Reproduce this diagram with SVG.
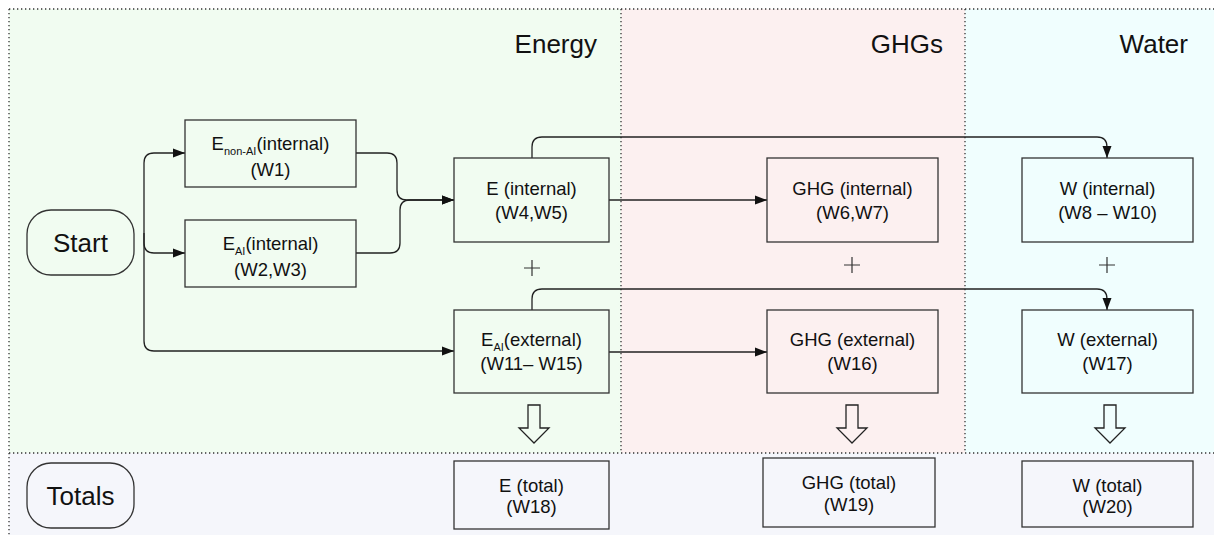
<svg xmlns="http://www.w3.org/2000/svg" width="1214" height="535" viewBox="0 0 1214 535">
<defs>
<style>
.box{fill:none;stroke:#333;stroke-width:1.3}
.t{font-family:"Liberation Sans",Arial,sans-serif;font-size:18.5px;fill:#111;text-anchor:middle}
.sub{font-size:11px}
.h{font-family:"Liberation Sans",Arial,sans-serif;font-size:26px;fill:#111;text-anchor:end}
.big{font-family:"Liberation Sans",Arial,sans-serif;font-size:26px;fill:#111;text-anchor:middle}
.dot{stroke:#333;stroke-width:1.3;stroke-dasharray:1.3 2.7;fill:none}
.c{fill:none;stroke:#222;stroke-width:1.3}
.plus{stroke:#333;stroke-width:1.2}
.hollow{fill:none;stroke:#222;stroke-width:1.3;stroke-linejoin:miter}
</style>
<marker id="ah" markerWidth="13" markerHeight="10" refX="12" refY="5" orient="auto" markerUnits="userSpaceOnUse">
<path d="M0,0.5 L12,5 L0,9.5 z" fill="#111"/>
</marker>
</defs>
<rect width="1214" height="535" fill="#fff"/>
<g id="regions">
<rect x="9" y="9" width="612" height="444" fill="#f1fcf1"/>
<rect x="621" y="9" width="344" height="444" fill="#fcf0f0"/>
<rect x="965" y="9" width="249" height="444" fill="#f0fefe"/>
<rect x="9" y="453" width="1205" height="82" fill="#f5f6fb"/>
<path class="dot" d="M9,9 H1214 M9,9 V535 M621,9 V453 M965,9 V453 M9,453 H1214"/>
<text class="h" x="597" y="53">Energy</text>
<text class="h" x="943" y="53">GHGs</text>
<text class="h" x="1188" y="53">Water</text>
</g>
<g id="connectors">
<path class="c" d="M144,243 V163 Q144,153 154,153 H185" marker-end="url(#ah)"/>
<path class="c" d="M144,233 V243 Q144,253 154,253 H185" marker-end="url(#ah)"/>
<path class="c" d="M144,243 V341 Q144,351 154,351 H454" marker-end="url(#ah)"/>
<path class="c" d="M356,153 H387 Q397,153 397,163 V190 Q397,200 407,200 H454" marker-end="url(#ah)"/>
<path class="c" d="M356,253 H390 Q400,253 400,243 V210 Q400,200 410,200 H454" marker-end="url(#ah)"/>
<path class="c" d="M609,200 H767" marker-end="url(#ah)"/>
<path class="c" d="M532,158 V147 Q532,137 542,137 H1097 Q1107,137 1107,147 V158" marker-end="url(#ah)"/>
<path class="c" d="M532,310 V299 Q532,289 542,289 H1097 Q1107,289 1107,299 V310" marker-end="url(#ah)"/>
<path class="c" d="M609,352 H767" marker-end="url(#ah)"/>
</g>
<g id="plus">
<path class="plus" d="M524,268 H540 M532,260 V276"/>
<path class="plus" d="M844,265 H860 M852,257 V273"/>
<path class="plus" d="M1099,265 H1115 M1107,257 V273"/>
</g>
<g id="sum-arrows">
<path class="hollow" d="M528,405 H540 V428 H549 L534,443 L519,428 H528 Z"/>
<path class="hollow" d="M846,405 H858 V428 H867 L852,443 L837,428 H846 Z"/>
<path class="hollow" d="M1104,405 H1116 V428 H1125 L1110,443 L1095,428 H1104 Z"/>
</g>
<g id="start">
<rect class="box" x="27" y="210" width="107" height="65" rx="24" ry="24"/>
<text class="big" x="80.5" y="252">Start</text>
</g>
<g id="totals">
<rect class="box" x="27" y="463" width="107" height="65" rx="24" ry="24"/>
<text class="big" x="80.5" y="505">Totals</text>
</g>
<g id="e-nonai-internal">
<rect class="box" x="185" y="120" width="171" height="67"/>
<text class="t" x="270.5" y="150">E<tspan class="sub" dy="5">non-AI</tspan><tspan dy="-5">(internal)</tspan></text>
<text class="t" x="270.5" y="176">(W1)</text>
</g>
<g id="e-ai-internal">
<rect class="box" x="185" y="220" width="171" height="67"/>
<text class="t" x="270.5" y="250">E<tspan class="sub" dy="5">AI</tspan><tspan dy="-5">(internal)</tspan></text>
<text class="t" x="270.5" y="276">(W2,W3)</text>
</g>
<g id="e-internal">
<rect class="box" x="454" y="158" width="155" height="84"/>
<text class="t" x="531.5" y="195">E (internal)</text>
<text class="t" x="531.5" y="219">(W4,W5)</text>
</g>
<g id="e-ai-external">
<rect class="box" x="454" y="310" width="155" height="83"/>
<text class="t" x="531.5" y="346">E<tspan class="sub" dy="5">AI</tspan><tspan dy="-5">(external)</tspan></text>
<text class="t" x="531.5" y="370">(W11– W15)</text>
</g>
<g id="e-total">
<rect class="box" x="454" y="461" width="155" height="68"/>
<text class="t" x="531.5" y="492">E (total)</text>
<text class="t" x="531.5" y="513">(W18)</text>
</g>
<g id="ghg-internal">
<rect class="box" x="767" y="158" width="171" height="84"/>
<text class="t" x="852.5" y="195">GHG (internal)</text>
<text class="t" x="852.5" y="219">(W6,W7)</text>
</g>
<g id="ghg-external">
<rect class="box" x="767" y="310" width="171" height="83"/>
<text class="t" x="852.5" y="346">GHG (external)</text>
<text class="t" x="852.5" y="370">(W16)</text>
</g>
<g id="ghg-total">
<rect class="box" x="763" y="458" width="172" height="69"/>
<text class="t" x="849" y="489">GHG (total)</text>
<text class="t" x="849" y="511">(W19)</text>
</g>
<g id="w-internal">
<rect class="box" x="1022" y="158" width="171" height="84"/>
<text class="t" x="1107.5" y="195">W (internal)</text>
<text class="t" x="1107.5" y="219">(W8 – W10)</text>
</g>
<g id="w-external">
<rect class="box" x="1022" y="310" width="171" height="83"/>
<text class="t" x="1107.5" y="346">W (external)</text>
<text class="t" x="1107.5" y="370">(W17)</text>
</g>
<g id="w-total">
<rect class="box" x="1022" y="461" width="171" height="66"/>
<text class="t" x="1107.5" y="492">W (total)</text>
<text class="t" x="1107.5" y="513">(W20)</text>
</g>
</svg>
